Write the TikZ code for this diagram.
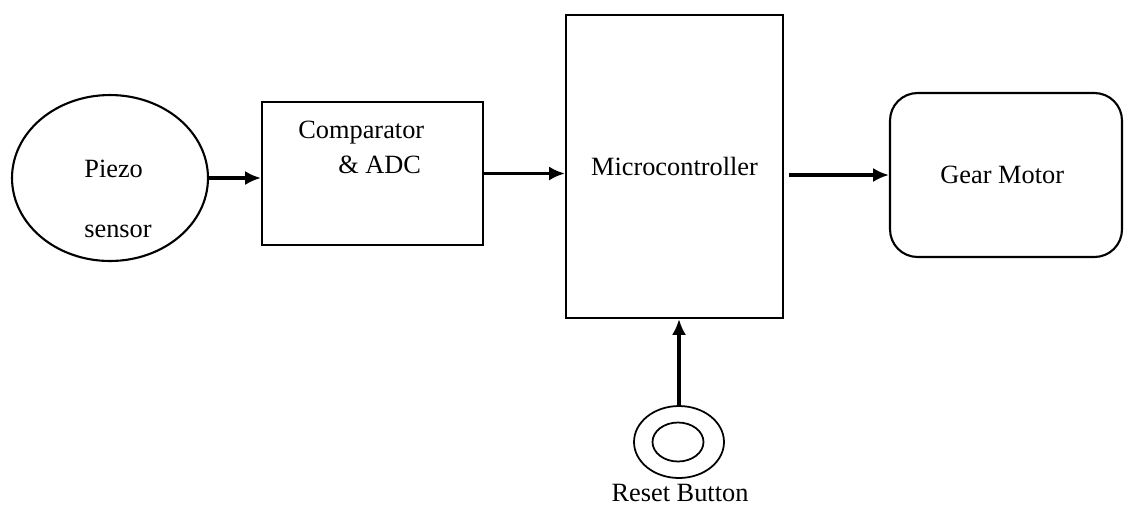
\documentclass[tikz,border=0pt]{standalone}
\usepackage{fontspec}
\setmainfont{Liberation Serif}
\usetikzlibrary{shapes.geometric, arrows.meta, positioning}

\begin{document}
\begin{tikzpicture}[
    x=0.02cm, y=-0.02cm,
    font=\fontsize{15}{18}\selectfont,
    block/.style={draw, rectangle, minimum width=4.42cm, minimum height=2.86cm, line width=1.2pt},
    sensor/.style={draw, ellipse, line width=1.2pt, inner sep=0pt},
    txt/.style={inner sep=0pt, align=left},
    arrow/.style={-{Latex[length=9pt, width=8pt]}, line width=1.9pt}
]
\useasboundingbox (0,0) rectangle (1125,505);

% Nodes
\node (piezo) [sensor, minimum width=3.92cm, minimum height=3.32cm] at (110,178) {};
\node (piezotxt) [txt, anchor=west] at (84,199) {Piezo\\[16pt]sensor};
\node (comp) [block] at (372.5,173.5) {};
\node (comptxt) [txt, anchor=north west] at (298,121) {Comparator\\[2pt]\hspace*{0.8cm}\& ADC};
\node (mcu) [block, minimum width=4.34cm, minimum height=6.06cm] at (674.5,166.5) {Microcontroller};
\node (gear) [block, rounded corners=0.55cm, minimum width=4.64cm, minimum height=3.28cm] at (1006,175) {\hspace*{-0.15cm}Gear Motor\\[0.2cm]};
\node (resetout) [sensor, line width=1pt, minimum width=1.8cm, minimum height=1.44cm] at (679,442) {};
\node (resetin) [sensor, line width=1pt, minimum width=1.02cm, minimum height=0.78cm] at (678,442) {};
\node (resettxt) [txt, anchor=base] at (680,501) {Reset Button};

% Arrows
\draw [arrow] (piezo.east) -- (piezo.east -| comp.west);
\draw [arrow] (comp.east) -- (comp.east -| mcu.west);
\draw [arrow, shorten <=0.1cm] (gear.west -| mcu.east) -- (gear.west);
\draw [arrow] (resetout.north) -- (resetout.north |- mcu.south);

\end{tikzpicture}
\end{document}
